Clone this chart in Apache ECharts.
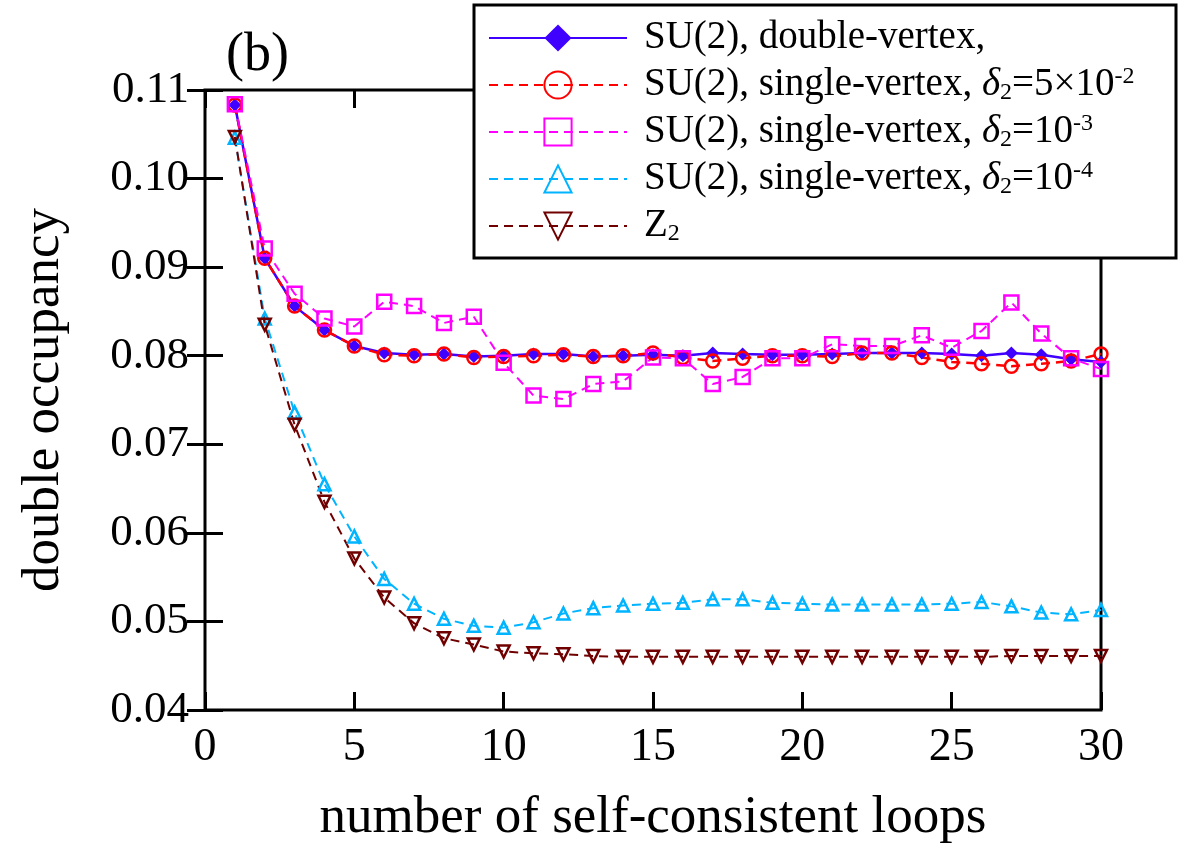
<!DOCTYPE html>
<html>
<head>
<meta charset="utf-8">
<script src="https://cdn.jsdelivr.net/npm/echarts@6/dist/echarts.min.js"></script>
<style>
html,body{margin:0;padding:0;background:#fff;}
#chart{width:1179px;height:850px;}
</style>
</head>
<body>
<div id="chart"></div>
<script>
const loops = [1,2,3,4,5,6,7,8,9,10,11,12,13,14,15,16,17,18,19,20,21,22,23,24,25,26,27,28,29,30];
const su2Double = [0.1083,0.0910,0.0856,0.0829,0.0811,0.0803,0.0801,0.0802,0.0799,0.0800,0.0802,0.0802,0.0799,0.0800,0.0801,0.0800,0.0803,0.0802,0.0801,0.0801,0.0802,0.0803,0.0803,0.0803,0.0802,0.0800,0.0803,0.0801,0.0796,0.0793];
const su2Single5e2 = [0.1083,0.0910,0.0856,0.0829,0.0811,0.0801,0.0800,0.0802,0.0798,0.0799,0.0800,0.0801,0.0799,0.0800,0.0803,0.0798,0.0794,0.0797,0.0800,0.0800,0.0799,0.0803,0.0803,0.0798,0.0793,0.0791,0.0788,0.0791,0.0794,0.0802];
const su2Single1e3 = [0.1084,0.0921,0.0870,0.0842,0.0833,0.0861,0.0856,0.0837,0.0844,0.0792,0.0755,0.0751,0.0768,0.0771,0.0798,0.0797,0.0768,0.0776,0.0797,0.0797,0.0813,0.0811,0.0811,0.0823,0.0809,0.0828,0.0860,0.0825,0.0797,0.0785];
const su2Single1e4 = [0.1046,0.0842,0.0736,0.0655,0.0596,0.0548,0.0520,0.0503,0.0495,0.0493,0.0499,0.0509,0.0515,0.0518,0.0520,0.0521,0.0525,0.0525,0.0521,0.0520,0.0519,0.0519,0.0519,0.0519,0.0520,0.0522,0.0517,0.0510,0.0508,0.0513];
const z2 = [0.1047,0.0835,0.0722,0.0635,0.0571,0.0527,0.0498,0.0481,0.0474,0.0466,0.0464,0.0463,0.0461,0.0460,0.0460,0.0460,0.0460,0.0460,0.0460,0.0460,0.0460,0.0460,0.0460,0.0460,0.0460,0.0460,0.0461,0.0461,0.0461,0.0461];
const seriesNames = ['su2double','su2s5e2','su2s1e3','su2s1e4','z2'];
const legendLabels = {
  su2double: 'SU(2), double-vertex,',
  su2s5e2: 'SU(2), single-vertex, {i|δ}{sub|2}=5×10{sup|-2}',
  su2s1e3: 'SU(2), single-vertex, {i|δ}{sub|2}=10{sup|-3}',
  su2s1e4: 'SU(2), single-vertex, {i|δ}{sub|2}=10{sup|-4}',
  z2: 'Z{sub|2}'
};
const xTicks = {min:0, max:30, interval:5};
const yTicks = {min:0.04, max:0.11, interval:0.01};

const FONT = 'Liberation Serif';
const pair = (ys) => loops.map((x,i) => [x, ys[i]]);

const chart = echarts.init(document.getElementById('chart'), null, {renderer:'canvas'});
const tickCommon = {show:true, inside:true, length:18, lineStyle:{color:'#000', width:3}};
const option = {
  backgroundColor:'#fff',
  animation:false,
  grid:{left:205, right:78, top:90, bottom:135, show:true, borderColor:'#000', borderWidth:3, backgroundColor:'transparent'},
  xAxis:[
    {type:'value', min:xTicks.min, max:xTicks.max, interval:xTicks.interval, position:'bottom',
     axisLine:{show:false}, axisTick:tickCommon, splitLine:{show:false},
     axisLabel:{color:'#000', fontFamily:FONT, fontSize:46, margin:15},
     name:'number of self-consistent loops', nameLocation:'middle', nameGap:82,
     nameTextStyle:{color:'#000', fontFamily:FONT, fontSize:53}},
    {type:'value', min:xTicks.min, max:xTicks.max, interval:xTicks.interval, position:'top',
     axisLine:{show:false}, axisTick:tickCommon, splitLine:{show:false}, axisLabel:{show:false}}
  ],
  yAxis:[
    {type:'value', min:yTicks.min, max:yTicks.max, interval:yTicks.interval, position:'left',
     axisLine:{show:false}, axisTick:tickCommon, splitLine:{show:false},
     axisLabel:{color:'#000', fontFamily:FONT, fontSize:45, margin:16, formatter:(v)=>v.toFixed(2)},
     name:'double occupancy', nameLocation:'middle', nameGap:134,
     nameTextStyle:{color:'#000', fontFamily:FONT, fontSize:53}},
    {type:'value', min:yTicks.min, max:yTicks.max, interval:yTicks.interval, position:'right',
     axisLine:{show:false}, axisTick:tickCommon, splitLine:{show:false}, axisLabel:{show:false}}
  ],
  legend:{
    orient:'vertical', left:488, top:18, padding:0, z:10,
    itemWidth:138, itemHeight:34, itemGap:7, selectedMode:false,
    data:seriesNames,
    formatter:(n)=>legendLabels[n],
    textStyle:{color:'#000', fontFamily:FONT, fontSize:39, lineHeight:40, padding:[0,0,0,12],
      rich:{
        i:{fontFamily:FONT, fontSize:39, fontStyle:'italic', color:'#000'},
        sub:{fontFamily:FONT, fontSize:24, verticalAlign:'bottom', lineHeight:24, color:'#000'},
        sup:{fontFamily:FONT, fontSize:24, verticalAlign:'top', lineHeight:24, color:'#000'}
      }}
  },
  graphic:[
    {type:'rect', z:3, shape:{x:474, y:5, width:702, height:253}, style:{fill:'#fff', stroke:'#000', lineWidth:3}},
    {type:'text', z:3, left:226, top:29, style:{text:'(b)', font:'54px "Liberation Serif"', fill:'#000'}}
  ],
  series:[
    {name:'su2double', type:'line', data:pair(su2Double), symbol:'diamond', symbolSize:13,
     lineStyle:{color:'#4000ff', width:2.5, type:'solid'}, itemStyle:{color:'#4000ff'}},
    {name:'su2s5e2', type:'line', data:pair(su2Single5e2), symbol:'circle', symbolSize:13,
     lineStyle:{color:'#ff0000', width:2.5, type:[9,6]}, itemStyle:{color:'rgba(255,255,255,0)', borderColor:'#ff0000', borderWidth:2.5}},
    {name:'su2s1e3', type:'line', data:pair(su2Single1e3), symbol:'rect', symbolSize:14,
     lineStyle:{color:'#ff00ff', width:2, type:[9,6]}, itemStyle:{color:'rgba(255,255,255,0)', borderColor:'#ff00ff', borderWidth:2.5}},
    {name:'su2s1e4', type:'line', data:pair(su2Single1e4), symbol:'triangle', symbolSize:12,
     lineStyle:{color:'#00b4ff', width:2, type:[9,6]}, itemStyle:{color:'rgba(255,255,255,0)', borderColor:'#00b4ff', borderWidth:2.5}},
    {name:'z2', type:'line', data:pair(z2), symbol:'triangle', symbolRotate:180, symbolSize:12,
     lineStyle:{color:'#700000', width:2, type:[9,6]}, itemStyle:{color:'rgba(255,255,255,0)', borderColor:'#700000', borderWidth:2.5}}
  ]
};
chart.setOption(option);
</script>
</body>
</html>
